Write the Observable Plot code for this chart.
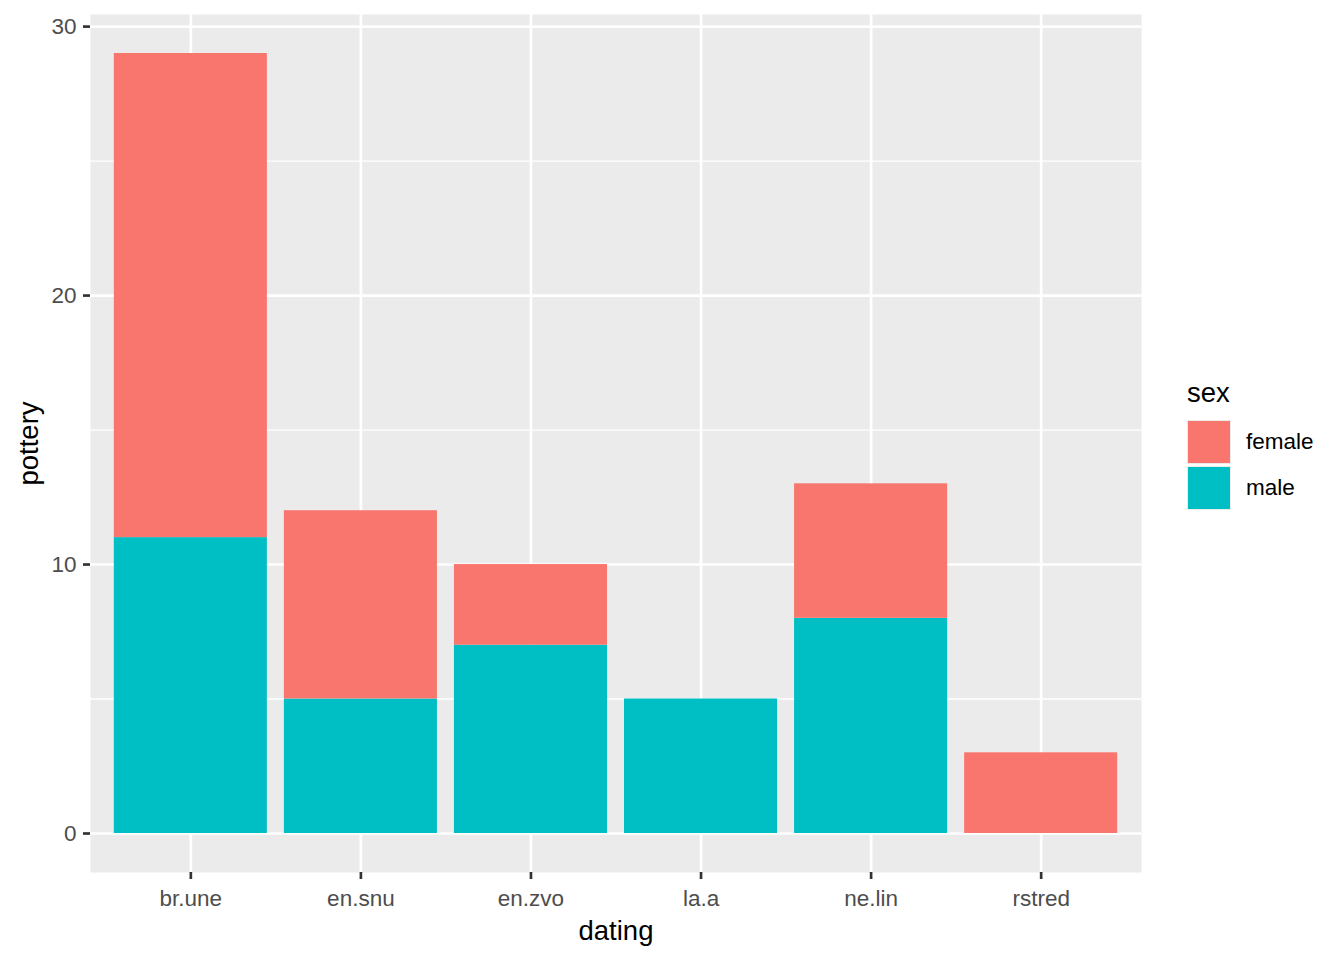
<!DOCTYPE html>
<html>
<head>
<meta charset="utf-8">
<script src="https://cdn.jsdelivr.net/npm/d3@7"></script>
<script src="https://cdn.jsdelivr.net/npm/@observablehq/plot@0.6"></script>
<style>
  html, body { margin: 0; padding: 0; background: white; }
  #wrap { position: relative; width: 1344px; height: 960px; font-family: "Liberation Sans", Arial, sans-serif; }
  #legend { position: absolute; left: 1187px; top: 379px; }
  #legend .title { font-size: 27.5px; color: black; line-height: 1; height: 40px; }
  #legend .row { display: flex; align-items: center; height: 46px; }
  #legend .key { width: 44px; height: 44px; background: #EBEBEB; box-sizing: border-box; padding: 1px; }
  #legend .key div { width: 100%; height: 100%; }
  #legend .lab { font-size: 22.5px; margin-left: 15px; color: black; }
</style>
</head>
<body>
<div id="wrap"></div>
<script>
const categories = ["br.une", "en.snu", "en.zvo", "la.a", "ne.lin", "rstred"];
const sexes = ["female", "male"];
const maleCounts = [11, 5, 7, 5, 8, 0];
const femaleCounts = [18, 7, 3, 0, 5, 3];
const yTicks = [0, 10, 20, 30];
const yMinorTicks = [5, 15, 25];
const sexColors = ["#F8766D", "#00BFC4"];

const data = categories.flatMap((c, i) => [
  {dating: c, sex: "male", pottery: maleCounts[i]},
  {dating: c, sex: "female", pottery: femaleCounts[i]}
]);

const chart = Plot.plot({
  width: 1344,
  height: 960,
  marginLeft: 90,
  marginRight: 203,
  marginTop: 14,
  marginBottom: 88,
  style: {fontFamily: "'Liberation Sans', Arial, sans-serif", background: "white", overflow: "visible"},
  x: {domain: categories, paddingInner: 0.1, paddingOuter: 0.14, align: 0.5, round: false},
  y: {domain: [-1.45, 30.45]},
  color: {domain: sexes, range: sexColors},
  marks: [
    Plot.frame({fill: "#EBEBEB", stroke: null}),
    Plot.gridY(yMinorTicks, {stroke: "white", strokeOpacity: 1, strokeWidth: 1.33}),
    Plot.gridY(yTicks, {stroke: "white", strokeOpacity: 1, strokeWidth: 2.67}),
    Plot.gridX({stroke: "white", strokeOpacity: 1, strokeWidth: 2.67}),
    Plot.barY(data, {x: "dating", y: "pottery", fill: "sex", inset: 0}),
    Plot.axisY(yTicks, {tickSize: 7, tickPadding: 7, fontSize: 22.5, stroke: "#333333", fill: "#4D4D4D", strokeWidth: 2.67, label: null}),
    Plot.axisX({tickSize: 7, tickPadding: 11, fontSize: 22.5, stroke: "#333333", fill: "#4D4D4D", strokeWidth: 2.67, label: null}),
    Plot.text(["dating"], {frameAnchor: "bottom", dy: 59, fontSize: 27.5, fill: "black", lineAnchor: "middle", textAnchor: "middle"}),
    Plot.text(["pottery"], {frameAnchor: "left", dx: -61, fontSize: 27.5, fill: "black", rotate: -90, lineAnchor: "middle", textAnchor: "middle"})
  ]
});

const wrap = document.getElementById("wrap");
wrap.appendChild(chart);

const legend = document.createElement("div");
legend.id = "legend";
const title = document.createElement("div");
title.className = "title";
title.textContent = "sex";
legend.appendChild(title);
sexes.forEach((s, i) => {
  const row = document.createElement("div");
  row.className = "row";
  const key = document.createElement("div");
  key.className = "key";
  const fill = document.createElement("div");
  fill.style.background = chart.scale("color").apply(s);
  key.appendChild(fill);
  const lab = document.createElement("div");
  lab.className = "lab";
  lab.textContent = s;
  row.appendChild(key);
  row.appendChild(lab);
  legend.appendChild(row);
});
wrap.appendChild(legend);
</script>
</body>
</html>
